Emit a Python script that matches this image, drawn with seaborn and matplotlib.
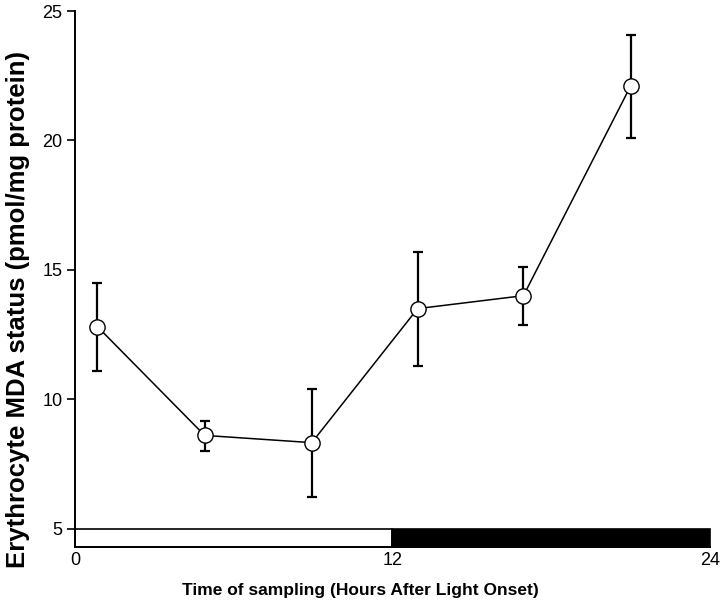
import matplotlib
matplotlib.use("Agg")
import matplotlib.pyplot as plt
import seaborn as sns
import pandas as pd

# ---------- DATA ----------
hours = [0.85, 4.9, 8.95, 12.95, 16.95, 21.0]
mda = [12.8, 8.6, 8.32, 13.5, 14.0, 22.1]
err_low = [11.1, 8.0, 6.22, 11.3, 12.86, 20.1]
err_high = [14.5, 9.16, 10.4, 15.7, 15.1, 24.08]

phase_start = [0, 12]
phase_length = [12, 12]
phase_color = ["white", "black"]

x_ticks = [0, 12, 24]
y_ticks = [5, 10, 15, 20, 25]

df = pd.DataFrame({"hours": hours, "mda": mda})

# ---------- PLOT ----------
sns.set_style("ticks")
plt.rcParams["font.family"] = ["Liberation Sans", "DejaVu Sans"]
plt.rcParams["text.color"] = "black"
plt.rcParams["axes.labelcolor"] = "black"
plt.rcParams["xtick.color"] = "black"
plt.rcParams["ytick.color"] = "black"
plt.rcParams["axes.edgecolor"] = "black"

fig = plt.figure(figsize=(7.24, 6.06), dpi=100)
ax = fig.add_axes([0.1036, 0.0979, 0.877, 0.8839])

y_bottom = 4.3
y_top_bar = 5.0

# light / dark bar
ax.barh(y=(y_bottom + y_top_bar) / 2, width=phase_length, left=phase_start,
        height=y_top_bar - y_bottom, color=phase_color, edgecolor="black",
        linewidth=1.2, zorder=2, clip_on=False)

yerr = [[m - lo for m, lo in zip(mda, err_low)],
        [hi - m for m, hi in zip(mda, err_high)]]
ax.errorbar(hours, mda, yerr=yerr, fmt="none", ecolor="black",
            elinewidth=1.6, capsize=3.8, capthick=1.6, zorder=3)

sns.lineplot(data=df, x="hours", y="mda", ax=ax, color="black",
             linewidth=1.1, marker="o", markersize=11,
             markerfacecolor="white", markeredgecolor="black",
             markeredgewidth=1.0, zorder=4)

ax.set_xlim(0, 24)
ax.set_ylim(y_bottom, 25)
ax.set_xticks(x_ticks)
ax.set_yticks(y_ticks)
ax.tick_params(axis="y", length=6, width=1.2, labelsize=13, pad=3)
ax.tick_params(axis="x", length=0, labelsize=13, pad=4)

for side in ["top", "right"]:
    ax.spines[side].set_visible(False)
ax.spines["left"].set_linewidth(1.4)
ax.spines["bottom"].set_linewidth(1.4)

ax.set_xlabel("Time of sampling (Hours After Light Onset)", fontsize=12.5,
              fontweight="bold")
ax.set_ylabel("Erythrocyte MDA status (pmol/mg protein)", fontsize=18.5,
              fontweight="bold")
ax.xaxis.set_label_coords(0.449, -0.068)
ax.yaxis.set_label_coords(-0.071, 0.442)

fig.savefig("out.png", dpi=100)
